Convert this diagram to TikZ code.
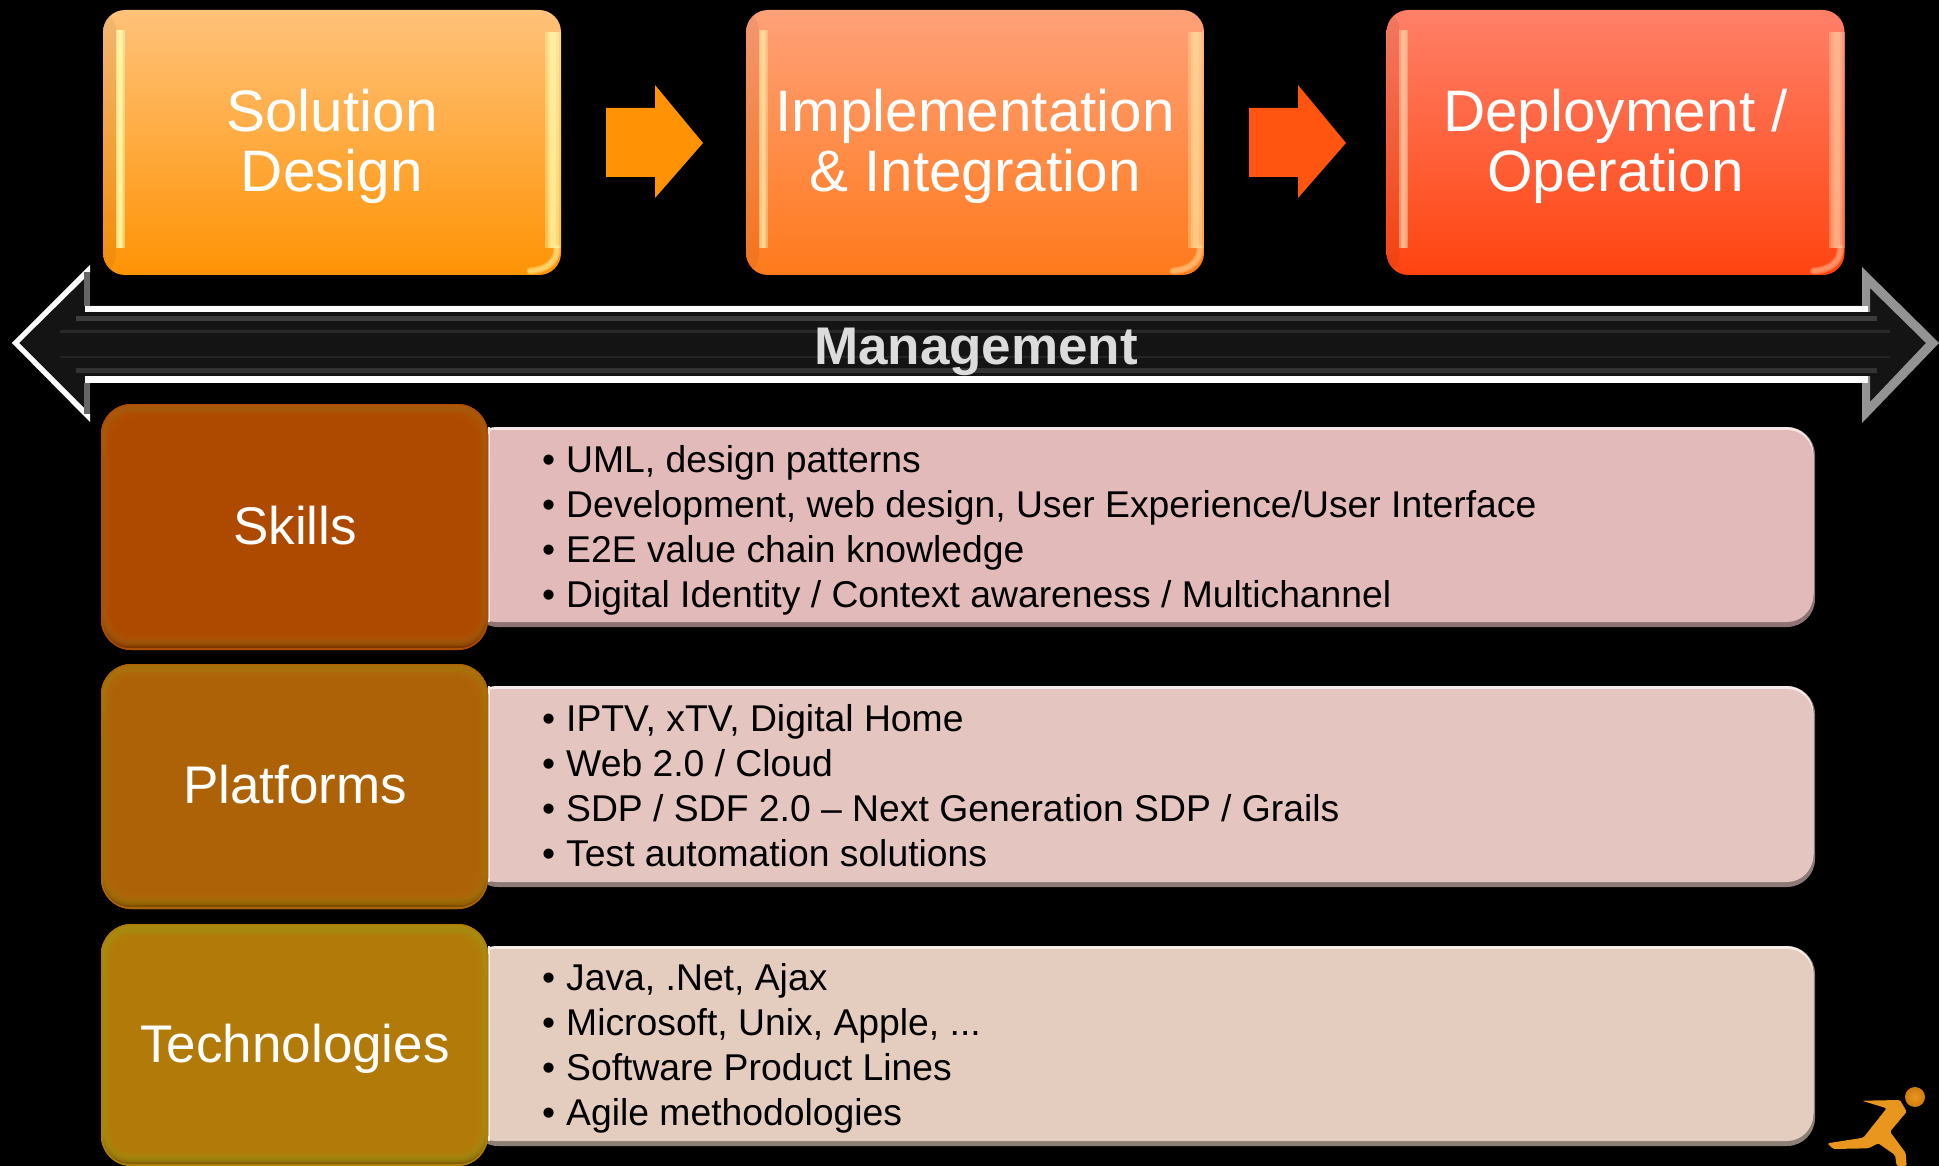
\documentclass[tikz,border=0pt]{standalone}
\usepackage{fontspec}
\setmainfont{Liberation Sans}
\definecolor{aTop}{HTML}{FFC27A}\definecolor{aBot}{HTML}{FF9305}\definecolor{aHi}{HTML}{FFFFB0}
\definecolor{bTop}{HTML}{FFA078}\definecolor{bBot}{HTML}{FF7A1C}\definecolor{bHi}{HTML}{FFE0A0}
\definecolor{cTop}{HTML}{FF8068}\definecolor{cBot}{HTML}{FF4410}\definecolor{cHi}{HTML}{FFC8A0}
\definecolor{arA}{HTML}{FF9305}\definecolor{arB}{HTML}{FF5510}
\definecolor{panA}{HTML}{E3BABA}\definecolor{panB}{HTML}{E4C5BF}\definecolor{panC}{HTML}{E4CDBF}
\definecolor{edgeA}{HTML}{A8580A}\definecolor{faceA}{HTML}{B04A00}\definecolor{darkA}{HTML}{7A3800}
\definecolor{edgeB}{HTML}{A8700A}\definecolor{faceB}{HTML}{B06208}\definecolor{darkB}{HTML}{7E4E00}
\definecolor{edgeC}{HTML}{A88A10}\definecolor{faceC}{HTML}{B47A08}\definecolor{darkC}{HTML}{806000}
\definecolor{runner}{HTML}{E8961E}\definecolor{runnerDk}{HTML}{D07C10}\definecolor{mgmtText}{HTML}{DCDCDC}
\newcommand{\bl}[1]{\makebox[24pt][l]{\textbullet}#1}
\tikzset{
  x=1pt,y=-1pt,
  phase/.style={inner sep=0pt,align=center,text=white,font=\fontsize{58.5}{60}\selectfont},
  skillbox/.style={inner sep=0pt,text=white,font=\fontsize{53}{60}\selectfont},
  panel/.style={inner sep=0pt,anchor=west,align=left,text=black,font=\fontsize{37.3}{45.1}\selectfont},
  mgmt/.style={inner sep=0pt,text=mgmtText,font=\bfseries\fontsize{53}{60}\selectfont},
}
\newcommand{\phasebox}[4]{% cx top bottom light
  \fill[rounded corners=22pt,top color=#2,bottom color=#3] (#1-229,10) rectangle (#1+229,275);
  % darker outer band on the left
  \fill[black,opacity=.05,rounded corners=20pt] (#1-229,10) rectangle (#1-216,275);
  % soft highlight, left
  \foreach \w in {9,6,3} {\draw[#4,line width=\w pt,opacity=.5] (#1-212,30) -- (#1-212,248);}
  % soft highlight, right, running out into the lower corner
  \foreach \w in {16,11,6} {\draw[#4,line width=\w pt,opacity=.38] (#1+221,32) -- (#1+221,248);}
  \foreach \w in {7,4} {\draw[#4,line width=\w pt,opacity=.35,line cap=round] (#1+225,248) .. controls (#1+225,262) and (#1+214,270) .. (#1+198,271);}
}
\newcommand{\blockarrow}[2]{% x0 colour
  \fill[#2] (#1,108) -- (#1+49,108) -- (#1+49,85) -- (#1+97,143) -- (#1+49,198) -- (#1+49,177) -- (#1,177) -- cycle;
}
\newcommand{\rowpanel}[3]{% top bottom fill
  \fill[rounded corners=28pt,#3!62!black] (470,#1) -- (1815,#1) -- (1815,#2) -- (470,#2) -- cycle;
  \fill[rounded corners=27pt,#3!35!white] (470,#1) -- (1813.5,#1) -- (1813.5,#2-6) -- (470,#2-6) -- cycle;
  \fill[rounded corners=26pt,#3] (470,#1+3) -- (1813,#1+3) -- (1813,#2-5) -- (470,#2-5) -- cycle;
  \fill[#3!35!white] (488,#1) rectangle (490,#2-5);
}
\newcommand{\rowbox}[5]{% top bottom edge face dark
  \fill[rounded corners=30pt,top color=#3,bottom color=#3,middle color=#4] (101,#1) rectangle (488,#2);
  \fill[rounded corners=26pt,#5] (103,#1+30) rectangle (486,#2-2);
  \foreach \i in {0,...,6} {
    \fill[rounded corners=28pt,#3,opacity=.5] (101+\i,#1+2+2*\i) rectangle (488-\i,#2-4-2*\i);
  }
  \foreach \i in {0,...,5} {
    \fill[rounded corners=24pt,#4,opacity=.4] (106+1.5*\i,#1+8+1.6*\i) rectangle (483-1.5*\i,#2-10-1.6*\i);
  }
  \draw[#4,line width=1.2pt,rounded corners=30pt] (101.6,#1+.6) rectangle (487.4,#2-.6);
}
\begin{document}
\begin{tikzpicture}
\useasboundingbox (0,0) rectangle (1939,1166);
\fill[black] (0,0) rectangle (1939,1166);

% process row
\phasebox{332}{aTop}{aBot}{aHi}
\phasebox{975}{bTop}{bBot}{bHi}
\phasebox{1615.5}{cTop}{cBot}{cHi}
\node[phase] (design) at (332,146.5) {Solution\\Design};
\node[phase] (impl) at (975,146.5) {Implementation\\\& Integration};
\node[phase] (deploy) at (1615.5,146.5) {Deployment /\\Operation};
\blockarrow{606}{arA}
\blockarrow{1249}{arB}

% management arrow
\fill[black!92!white] (12,343) -- (90,265) -- (90,305) -- (1862,305) -- (1862,267) -- (1939,343) -- (1862,423) -- (1862,383) -- (90,383) -- (90,422) -- cycle;
\fill[gray!85!white,even odd rule] (1862,267) -- (1939,343) -- (1862,423) -- cycle (1870,288) -- (1926,343) -- (1870,402) -- cycle;
\fill[black!92!white] (1858,312) rectangle (1872,376);
\fill[white,even odd rule] (90,265) -- (12,343) -- (90,422) -- (90,414) -- (19,343) -- (90,273) -- cycle;
\fill[black!60!white] (84,272) rectangle (90,306);
\fill[black!60!white] (84,383) rectangle (90,414);
\fill[white] (85,306) rectangle (1868,312);
\fill[white] (85,376) rectangle (1868,383);
\fill[black!76!white] (76,316) rectangle (1877,321);
\fill[black!80!white] (76,368) rectangle (1877,373);
\fill[black!84!white] (60,330) rectangle (1890,333);
\fill[black!86!white] (60,356) rectangle (1890,358);
\node[mgmt] (management) at (976,352) {Management};

% rows
\rowpanel{427}{627}{panA}
\rowpanel{686}{887}{panB}
\rowpanel{946}{1146}{panC}
\rowbox{404}{650}{edgeA}{faceA}{darkA}
\rowbox{664}{909}{edgeB}{faceB}{darkB}
\rowbox{924}{1166}{edgeC}{faceC}{darkC}
\node[skillbox] (skills) at (295,526) {Skills};
\node[skillbox] (platforms) at (295,785) {Platforms};
\node[skillbox] (tech) at (295,1049) {Technologies};

\node[panel] (skilltext) at (542,530.5) {\bl{UML, design patterns}\\\bl{Development, web design, User Experience/User Interface}\\\bl{E2E value chain knowledge}\\\bl{Digital Identity / Context awareness / Multichannel}};
\node[panel] (plattext) at (542,786) {\bl{IPTV, xTV, Digital Home}\\\bl{Web 2.0 / Cloud}\\\bl{SDP / SDF 2.0 – Next Generation SDP / Grails}\\\bl{Test automation solutions}};
\node[panel] (techtext) at (542,1048) {\bl{Java, .Net, Ajax}\\\bl{Microsoft, Unix, Apple, ...}\\\bl{Software Product Lines}\\\bl{Agile methodologies}};

% runner logo
\fill[runner,rounded corners=1.5pt] (1862,1100.7) -- (1900,1100) -- (1906.7,1111.7) -- (1890,1131.7) -- (1905.7,1153) -- (1906.7,1166) -- (1896.7,1166) -- (1895,1155) -- (1878.3,1143.3) -- (1868.3,1148.3) -- (1833.3,1149) -- (1827.3,1143.3) -- (1863.3,1137.7) -- (1886.7,1108.3) -- cycle;
\fill[inner color=runner,outer color=runnerDk] (1915,1097) circle (10);
\end{tikzpicture}
\end{document}
